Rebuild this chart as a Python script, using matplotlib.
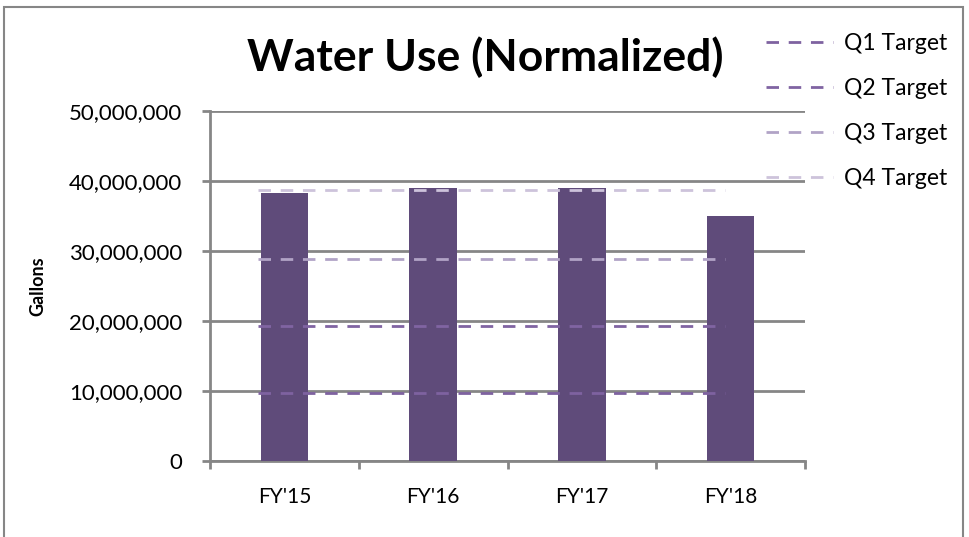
import matplotlib
matplotlib.use("Agg")
import matplotlib.pyplot as plt
from matplotlib.patches import Rectangle
import numpy as np

categories = ["FY'15", "FY'16", "FY'17", "FY'18"]
water_use = [38300000, 39000000, 39000000, 35000000]
target_names = ["Q1 Target", "Q2 Target", "Q3 Target", "Q4 Target"]
target_values = [9700000, 19300000, 28900000, 38700000]
target_colors = ["#7E62A0", "#8064A2", "#B1A3C6", "#CDC3DB"]
bar_color = "#5F4B7A"
yticks = [0, 10000000, 20000000, 30000000, 40000000, 50000000]

plt.rcParams['font.family'] = ['Lato', 'DejaVu Sans']

fig = plt.figure(figsize=(9.69, 5.37), dpi=100)
ax = fig.add_axes([210/969, 1-461/537, 595/969, 350/537])

x = np.arange(len(categories))
ax.bar(x, water_use, width=0.32, color=bar_color, zorder=3)

handles = []
for name, val, col in zip(target_names, target_values, target_colors):
    ln, = ax.plot([x[0]-0.175, x[-1]-0.04], [val, val], color=col, lw=2,
                  dashes=(4.5, 3.5), zorder=4, label=name)
    handles.append(ln)

ax.set_xlim(-0.5, len(categories)-0.5)
ax.set_ylim(0, 50000000)
ax.set_yticks(yticks)
ax.set_yticklabels([f"{v:,}" for v in yticks], fontsize=16)
ax.yaxis.grid(True, color="#868686", lw=2, zorder=0)
ax.set_axisbelow(True)
ax.set_xticks(x)
ax.set_xticklabels(categories, fontsize=15)
ax.set_xticks(np.arange(-0.5, len(categories), 1.0), minor=True)
ax.tick_params(axis='x', which='major', length=0, pad=19)
ax.tick_params(axis='x', which='minor', length=6, width=2, color="#868686", direction='out')
ax.tick_params(axis='y', length=6, width=2, color="#868686", pad=14)
for s in ["top", "right"]:
    ax.spines[s].set_visible(False)
for s in ["left", "bottom"]:
    ax.spines[s].set_color("#868686")
    ax.spines[s].set_linewidth(2)

ax.set_ylabel("Gallons", fontsize=13, fontweight='bold')
ax.yaxis.set_label_coords(-0.275, 0.5)

fig.text(485/969, 1-57/537, "Water Use (Normalized)", fontsize=32, fontweight='bold',
         ha='center', va='center')

leg = fig.legend(handles=handles, loc='upper left', bbox_to_anchor=(757/969, 1-24/537),
                 frameon=False, fontsize=16.5, handlelength=2.9, handletextpad=0.5,
                 labelspacing=1.05, borderaxespad=0)

fig.patches.append(Rectangle((4/969, -0.1), 959/969, 1.1-7/537, transform=fig.transFigure,
                             fill=False, edgecolor="#868686", lw=1.5))

fig.savefig("out.png", dpi=100)
